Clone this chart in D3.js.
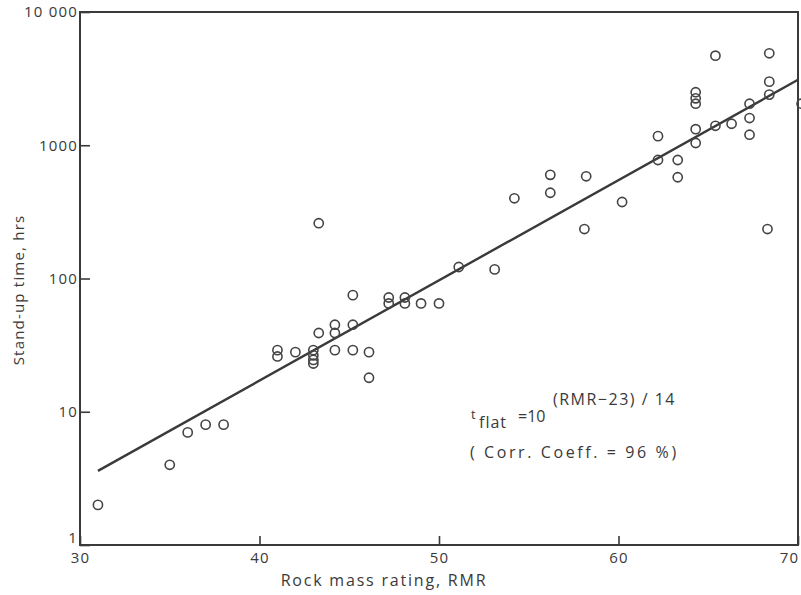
<!DOCTYPE html>
<html>
<head>
<meta charset="utf-8">
<script src="https://cdn.jsdelivr.net/npm/d3@7"></script>
<style>
  body { margin: 0; background: #fff; }
  svg text { font-family: "Open Sans", sans-serif; fill: #3a3a3a; }
</style>
</head>
<body>
<div id="chart"></div>
<script>
// measured points: rock mass rating vs stand-up time (hrs)
var rmr = [31, 35, 36, 37, 38,
  41, 41, 42, 43, 43, 43, 43, 43.3, 43.3,
  44.2, 44.2, 44.2, 45.2, 45.2, 45.2, 46.1, 46.1,
  47.2, 47.2, 48.1, 48.1, 49, 50, 51.1, 53.1, 54.2,
  56.2, 56.2, 58.2, 58.1, 60.2, 62.2, 62.2, 63.3, 63.3,
  64.3, 64.3, 64.3, 64.3, 64.3, 65.4, 65.4, 66.3,
  67.3, 67.3, 67.3, 68.4, 68.4, 68.4, 68.3, 70.2];
var hours = [2, 4, 7, 8, 8,
  29, 26, 28, 29, 26.5, 24.5, 23, 39, 260,
  45, 39, 29, 45, 29, 75, 28, 18,
  72, 65, 72, 65, 65, 65, 122, 117, 400,
  600, 440, 585, 235, 375, 1170, 775, 775, 575,
  2500, 2250, 2050, 1320, 1040, 4700, 1400, 1450,
  2050, 1600, 1200, 4900, 3000, 2400, 235, 2050];

// regression line end points
var fitRmr = [31, 70];
var fitHours = [3.6, 3100];

var xTicks = [30, 40, 50, 60, 70];
var yTicks = [1, 10, 100, 1000, 10000];
var yTickLabels = ['1', '10', '100', '1000', '10 000'];

var width = 801,
  height = 595,
  plotLeft = 80,
  plotRight = 798,
  plotTop = 12,
  plotBottom = 545,
  ink = '#3a3a3a';

var svg = d3.select('#chart')
  .append('svg')
  .attr('width', width)
  .attr('height', height);

var x = d3.scaleLinear().domain([30, 70]).range([plotLeft, plotRight]);
var y = d3.scaleLog().domain([1, 10000]).range([plotBottom, plotTop]);

// frame
svg.append('rect')
  .attr('x', plotLeft)
  .attr('y', plotTop)
  .attr('width', plotRight - plotLeft)
  .attr('height', plotBottom - plotTop)
  .attr('fill', 'none')
  .attr('stroke', ink)
  .attr('stroke-width', 2);

var xAxis = svg.append('g')
  .attr('transform', 'translate(0,' + plotBottom + ')')
  .call(d3.axisBottom(x).tickValues(xTicks).tickSize(-9).tickPadding(7));

var yAxis = svg.append('g')
  .attr('transform', 'translate(' + plotLeft + ',0)')
  .call(d3.axisLeft(y).tickValues(yTicks).tickSize(-10).tickPadding(2)
    .tickFormat(function(d, i){ return yTickLabels[i]; }));

[xAxis, yAxis].forEach(function(g){
  g.select('.domain').remove();
  g.selectAll('line').attr('stroke', ink).attr('stroke-width', 1.6);
  g.selectAll('text')
    .attr('fill', ink)
    .style('font-size', '15px')
    .style('letter-spacing', '1.2px');
});

// nudge the corner labels like the original
yAxis.selectAll('text').filter(function(d){ return d === 1; }).attr('dy', '-0.2em');
xAxis.selectAll('text').filter(function(d){ return d === 70; }).attr('dx', '-9');

// fit line
svg.append('path')
  .datum(d3.zip(fitRmr, fitHours))
  .attr('d', d3.line().x(function(d){ return x(d[0]); }).y(function(d){ return y(d[1]); }))
  .attr('fill', 'none')
  .attr('stroke', ink)
  .attr('stroke-width', 2.4);

// data points
svg.append('g')
  .selectAll('circle')
  .data(d3.zip(rmr, hours))
  .join('circle')
  .attr('cx', function(d){ return x(d[0]); })
  .attr('cy', function(d){ return y(d[1]); })
  .attr('r', 4.6)
  .attr('fill', 'none')
  .attr('stroke', '#444')
  .attr('stroke-width', 1.6);

// axis titles
svg.append('text')
  .attr('x', 384)
  .attr('y', 586)
  .attr('text-anchor', 'middle')
  .style('font-size', '16px')
  .style('letter-spacing', '1.8px')
  .text('Rock mass rating, RMR');

svg.append('text')
  .attr('transform', 'translate(24,290) rotate(-90)')
  .attr('text-anchor', 'middle')
  .style('font-size', '15px')
  .style('letter-spacing', '1.2px')
  .text('Stand-up time, hrs');

// equation note
var note = svg.append('g').style('font-size', '16px');
note.append('text').attr('x', 471).attr('y', 419).style('font-size', '13px').text('t');
note.append('text').attr('x', 479).attr('y', 428).style('letter-spacing', '1px').text('flat');
note.append('text').attr('x', 518).attr('y', 422).text('=10');
note.append('text').attr('x', 553).attr('y', 405).style('letter-spacing', '1.5px').text('(RMR\u221223) / 14');
note.append('text').attr('x', 470).attr('y', 458).style('letter-spacing', '2.6px').text('( Corr. Coeff. = 96 %)');
</script>
</body>
</html>
